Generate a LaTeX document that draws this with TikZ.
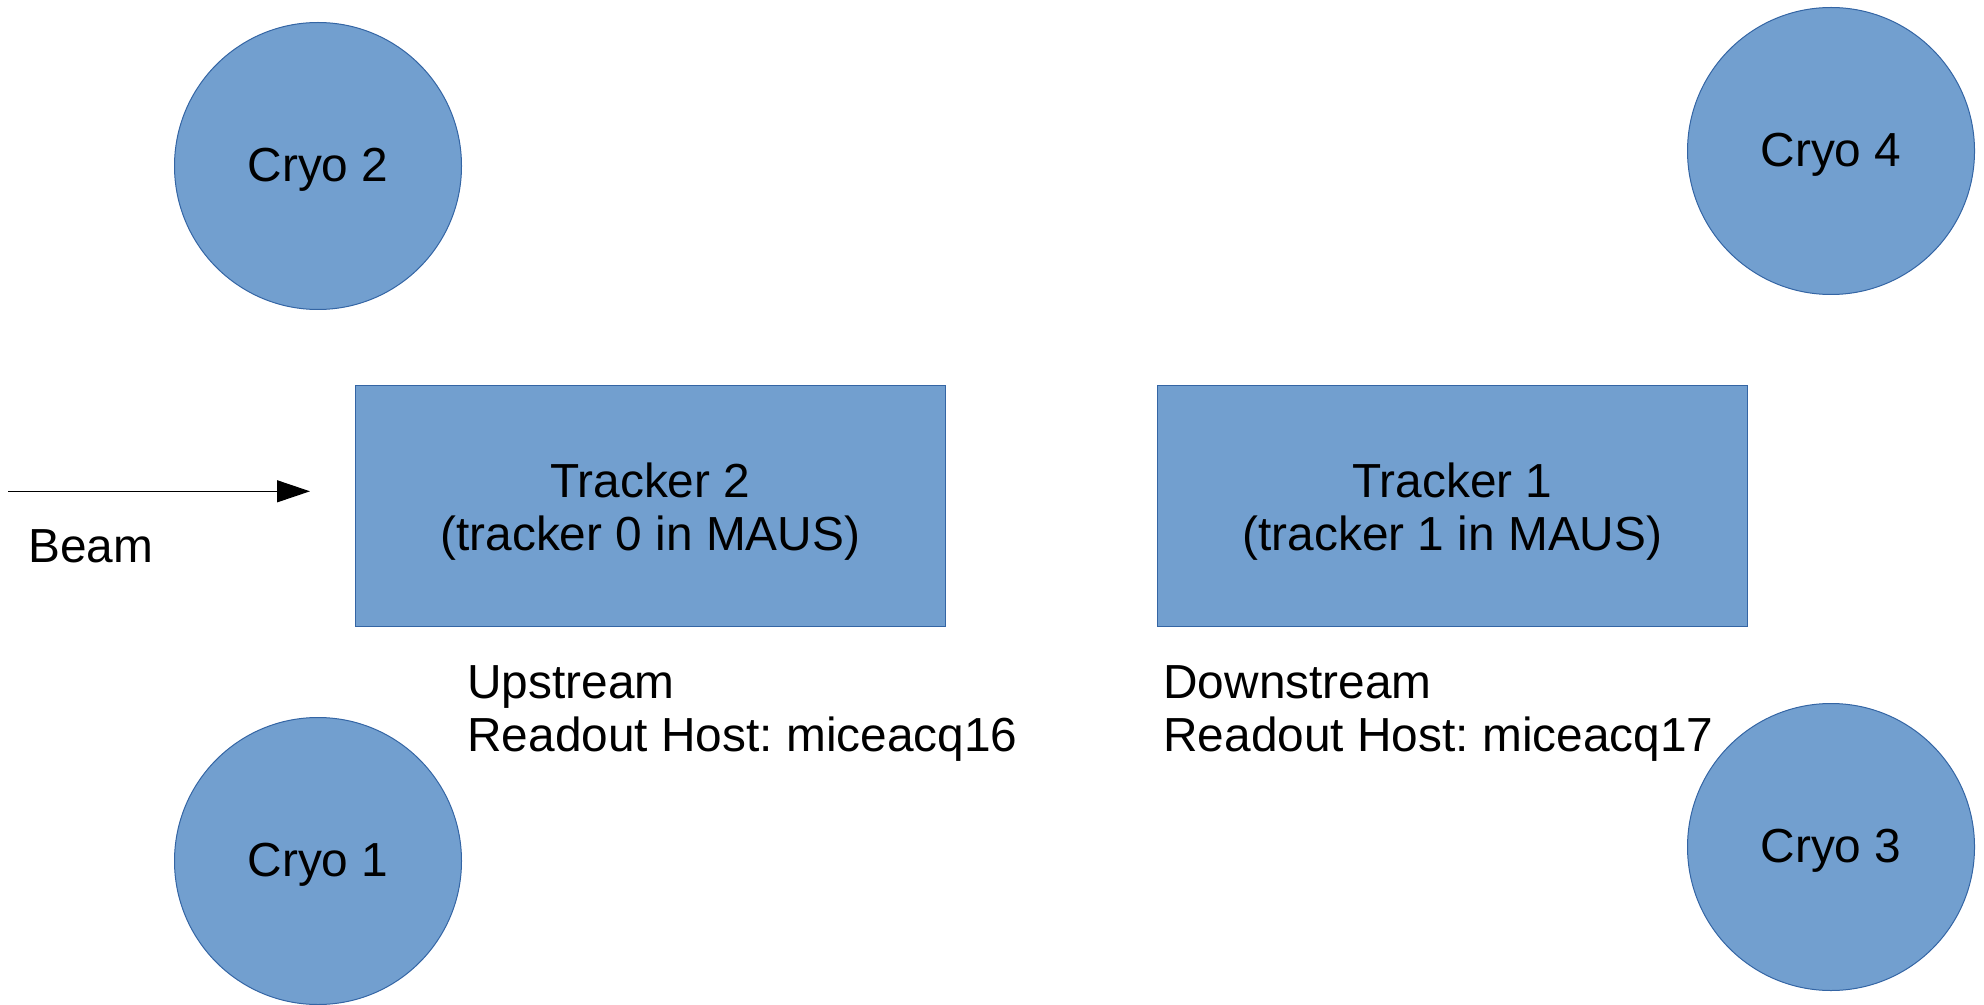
\documentclass[tikz,border=0pt]{standalone}
\usepackage{fontspec}
\setmainfont{Liberation Sans}
\usetikzlibrary{arrows.meta}
\definecolor{boxfill}{HTML}{729FCF}
\definecolor{boxline}{HTML}{3465A4}
\frenchspacing
\tikzset{
  lbl/.style={font=\fontsize{23.9}{26.5}\selectfont, text=black},
  cryo/.style={circle, draw=boxline, fill=boxfill, line width=0.5pt,
    minimum size=143.5pt, inner sep=0pt, lbl},
  tracker/.style={rectangle, draw=boxline, fill=boxfill, line width=0.5pt,
    minimum width=294.75pt, minimum height=120.5pt, inner sep=0pt,
    align=center, lbl},
  note/.style={lbl, align=left, inner sep=0pt, anchor=west},
  beamline/.style={line width=0.6pt, -{Triangle[length=16.5pt,width=11pt]}}
}
\begin{document}
\begin{tikzpicture}[x=0.5pt, y=-0.5pt]
  \useasboundingbox (0,0) rectangle (1984,1005);
  % cryostats at the four corners
  \node[cryo] (cryo2) at (318,166) {};
  \node[cryo] (cryo1) at (318,861) {};
  \node[cryo] (cryo4) at (1831,151) {};
  \node[cryo] (cryo3) at (1831,847) {};
  \node[lbl, inner sep=0pt] (c2lbl) at ([yshift=-2pt]cryo2.center) {Cryo 2};
  \node[lbl, inner sep=0pt] (c1lbl) at ([yshift=-2pt]cryo1.center) {Cryo 1};
  \node[lbl, inner sep=0pt] (c4lbl) at ([yshift=-2pt]cryo4.center) {Cryo 4};
  \node[lbl, inner sep=0pt] (c3lbl) at ([yshift=-2pt]cryo3.center) {Cryo 3};
  % the two trackers
  \node[tracker] (trk2) at (650.3,505.5) {};
  \node[tracker] (trk1) at (1452.5,505.5) {};
  \node[lbl, align=center, inner sep=0pt] (t2lbl) at ([yshift=-3pt]trk2.center) {Tracker 2\\(tracker 0 in MAUS)};
  \node[lbl, align=center, inner sep=0pt] (t1lbl) at ([yshift=-3pt]trk1.center) {Tracker 1\\(tracker 1 in MAUS)};
  % readout notes
  \node[note] (up) at (467,713.5) {Upstream\\Readout Host: miceacq16};
  \node[note] (down) at (1163,713.5) {Downstream\\Readout Host: miceacq17};
  % beam direction
  \coordinate (bstart) at (8,491.3);
  \coordinate (bend) at (310,491.3);
  \draw[beamline] (bstart) -- (bend);
  \node[lbl, inner sep=0pt, anchor=west] (beam) at (28,546.5) {Beam};
\end{tikzpicture}
\end{document}
